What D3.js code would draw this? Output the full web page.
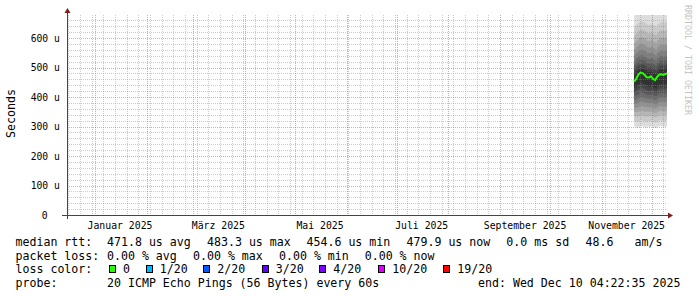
<!DOCTYPE html>
<html>
<head>
<meta charset="utf-8">
<script src="https://cdn.jsdelivr.net/npm/d3@7"></script>
<style>
body{margin:0;background:#fff}
svg{display:block}
</style>
</head>
<body>
<div id="chart"></div>
<script>
// time window: last 360 days up to the end stamp
var endStamp="2025-12-10 04:22:35";
var spanDays=360;

var yTicks=[0,100,200,300,400,500,600];
var yTickLabels=["0","100 u","200 u","300 u","400 u","500 u","600 u"];
var xLabelMonths=["2025-01","2025-03","2025-05","2025-07","2025-09","2025-11"];
var xLabels=["Januar 2025","März 2025","Mai 2025","Juli 2025","September 2025","November 2025"];

// samples (µs); each pingRanks row holds the 20 sorted pings of that sample
var sampleTimes=["2025-11-20 12:00","2025-11-21 18:00","2025-11-23 00:00","2025-11-24 06:00",
 "2025-11-25 12:00","2025-11-26 18:00","2025-11-28 00:00","2025-11-29 06:00","2025-11-30 12:00",
 "2025-12-01 18:00","2025-12-03 00:00","2025-12-04 06:00","2025-12-05 12:00","2025-12-06 18:00",
 "2025-12-08 00:00","2025-12-09 06:00","2025-12-10 04:22"];
var medianRtt=[452,462,476,483,481,475,467,466,470,462,457,468,476,477,475,478,480];
var pingRanks=[
 [300,319,335,349,363,377,391,405,419,432,480,494,509,524,542,562,585,610,640,690],
 [296,316,333,348,363,378,393,408,423,437,488,502,517,532,550,570,592,617,646,695],
 [298,318,336,351,367,383,398,413,428,443,494,508,523,539,557,577,600,625,652,700],
 [302,321,338,353,369,385,400,416,432,448,497,511,526,542,561,581,603,628,656,705],
 [299,318,335,351,367,383,399,414,430,445,495,509,523,540,559,579,601,626,654,700],
 [297,316,334,349,365,381,396,411,426,441,491,505,520,536,555,575,598,622,650,695],
 [300,318,335,350,365,380,394,408,422,436,485,499,514,530,549,569,591,616,645,690],
 [298,317,334,349,364,379,393,407,421,435,484,498,513,529,548,568,590,615,644,690],
 [301,320,337,352,367,382,396,410,424,438,487,501,516,532,551,571,594,619,648,695],
 [297,315,332,347,362,377,391,405,419,432,481,495,510,526,545,565,588,613,642,690],
 [295,314,331,346,361,375,389,403,416,429,477,491,506,522,541,561,584,609,638,685],
 [299,318,335,350,365,380,395,409,423,437,486,500,515,531,550,570,593,618,647,695],
 [302,321,338,353,369,384,399,414,429,443,493,507,522,538,557,577,600,625,653,700],
 [300,319,337,352,368,384,399,414,429,444,494,508,523,539,558,578,601,626,655,700],
 [298,317,335,350,366,382,397,412,427,442,492,506,521,537,556,576,599,624,652,700],
 [301,320,338,353,369,385,400,415,430,445,495,509,524,540,559,579,602,627,655,705],
 [300,319,337,352,368,384,399,414,429,444,496,510,525,541,560,580,603,628,656,705]
];
var smokeGrays=["#dddddd","#cacaca","#b7b7b7","#a4a4a4","#919191","#7e7e7e","#6b6b6b","#585858","#454545","#323232"];

var medianStats=["471.8 us avg","483.3 us max","454.6 us min","479.9 us now","0.0 ms sd","48.6","am/s"];
var lossStats=["0.00 % avg","0.00 % max","0.00 % min","0.00 % now"];
var lossLabels=["0","1/20","2/20","3/20","4/20","10/20","19/20"];
var lossColors=["#26ff00","#00b8ff","#0059ff","#5e00ff","#7e00ff","#dd00ff","#ff0000"];
var probeText="20 ICMP Echo Pings (56 Bytes) every 60s";
var endText="end: Wed Dec 10 04:22:35 2025";

var parseFull=d3.timeParse("%Y-%m-%d %H:%M:%S");
var parseMin=d3.timeParse("%Y-%m-%d %H:%M");
var parseMonth=d3.timeParse("%Y-%m");
var endTime=parseFull(endStamp);
var startTime=d3.timeDay.offset(endTime,-spanDays);

var W=697,H=297;
var L=67,R=667,T=15,B=215;
var mono="'DejaVu Sans Mono', monospace";

var svg=d3.select("#chart").append("svg")
	.attr("width",W).attr("height",H)
	.style("font-family",mono);
svg.append("rect").attr("width",W).attr("height",H).attr("fill","#fff");

var x=d3.scaleTime().domain([startTime,endTime]).range([L,R]);
var y=d3.scaleLinear().domain([0,678]).range([B,T]);

svg.append("clipPath").attr("id","plot")
	.append("rect").attr("x",L).attr("y",T).attr("width",R-L).attr("height",B-T);

// smoke
var times=sampleTimes.map(function(s){return parseMin(s);});
var smoke=svg.append("g").attr("clip-path","url(#plot)");
smokeGrays.forEach(function(c,i){
	var area=d3.area()
		.curve(d3.curveStepAfter)
		.x(function(d,k){return x(times[k]);})
		.y0(function(d){return y(d[i]);})
		.y1(function(d){return y(d[19-i]);});
	smoke.append("path").attr("d",area(pingRanks)).attr("fill",c);
});

// grid (drawn over the data, rrdtool style)
var grid=svg.append("g").attr("shape-rendering","crispEdges").attr("stroke-dasharray","1,1");
var minorCol="rgba(143,143,143,0.45)",majorCol="rgba(222,70,70,0.5)";
d3.range(20,680,20).filter(function(v){return v%100;}).forEach(function(v){
	var py=Math.round(y(v))+0.5;
	grid.append("path").attr("d","M"+L+" "+py+" H"+R).attr("stroke",minorCol);
});
var months=d3.timeMonth.range(startTime,endTime);
d3.timeMonday.range(startTime,endTime).forEach(function(d){
	if(d.getDate()===1) return;
	var px=Math.round(x(d))+0.5;
	grid.append("path").attr("d","M"+px+" "+T+" V"+B).attr("stroke",minorCol);
});
yTicks.slice(1).forEach(function(v){
	var py=Math.round(y(v))+0.5;
	grid.append("path").attr("d","M"+L+" "+py+" H"+R).attr("stroke",majorCol);
});
months.forEach(function(d){
	var px=Math.round(x(d))+0.5;
	grid.append("path").attr("d","M"+px+" "+T+" V"+B).attr("stroke",majorCol);
});

// median line
var line=d3.line()
	.x(function(d,k){return x(times[k]);})
	.y(function(d){return y(d);});
svg.append("path").attr("d",line(medianRtt))
	.attr("fill","none").attr("stroke",lossColors[0]).attr("stroke-width",2);

// axes
var axisCol="#444",arrowCol="#7f1f1f";
svg.append("path").attr("d","M62 215.5 H668").attr("stroke",axisCol).attr("shape-rendering","crispEdges");
svg.append("path").attr("d","M67.5 219 V13").attr("stroke",axisCol).attr("shape-rendering","crispEdges");
svg.append("path").attr("d","M67.5 8 L64.5 13 L70.5 13 Z").attr("fill",arrowCol);
svg.append("path").attr("d","M673 215.5 L668 212.5 L668 218.5 Z").attr("fill",arrowCol);

// y labels ("0" keeps the blank unit slot)
svg.append("g").selectAll("text").data(yTicks).enter().append("text")
	.attr("x",function(d){return d===0?47.5:59.8;})
	.attr("y",function(d){return y(d)+3.5;})
	.attr("text-anchor","end")
	.attr("font-size","9.7px")
	.text(function(d,i){return yTickLabels[i];});

// x labels, centred half a month after the month start
svg.append("g").selectAll("text").data(xLabelMonths).enter().append("text")
	.attr("x",function(d){return x(d3.timeDay.offset(parseMonth(d),15));})
	.attr("y",228.5)
	.attr("text-anchor","middle")
	.attr("font-size","9.8px")
	.text(function(d,i){return xLabels[i];});

svg.append("text").attr("transform","translate(14.5,113.5) rotate(-90)")
	.attr("text-anchor","middle").attr("font-size","11.6px").text("Seconds");

svg.append("text").attr("transform","translate(684.5,5) rotate(90)")
	.attr("font-size","8.3px").attr("fill","#c4c4c4").text("RRDTOOL / TOBI OETIKER");

// legend
var fs="11.6px";
function put(txt,px,py){
	svg.append("text").attr("x",px).attr("y",py).attr("font-size",fs).attr("fill","#000")
		.style("white-space","pre").text(txt);
}
var row1=246,row2=259.7,row3=273.4,row4=287;
var medX=[107,207,306.5,406.5,506.3,585.6,634.5];
put("median rtt:",15.5,row1);
medianStats.forEach(function(s,i){put(s,medX[i],row1);});
var lossX=[107,193,279,364.7];
put("packet loss:",15.5,row2);
lossStats.forEach(function(s,i){put(s,lossX[i],row2);});
put("loss color:",15.5,row3);
var boxX=[109,145.7,203.3,261.7,319.3,378.3,443.3];
lossLabels.forEach(function(s,i){
	svg.append("rect").attr("x",boxX[i]+0.5).attr("y",265.5).attr("width",6).attr("height",7)
		.attr("fill",lossColors[i]).attr("stroke","#000").attr("shape-rendering","crispEdges");
	put(s,boxX[i]+14,row3);
});
put("probe:",15.5,row4);
put(probeText,107,row4);
put(endText,478,row4);
</script>
</body>
</html>
